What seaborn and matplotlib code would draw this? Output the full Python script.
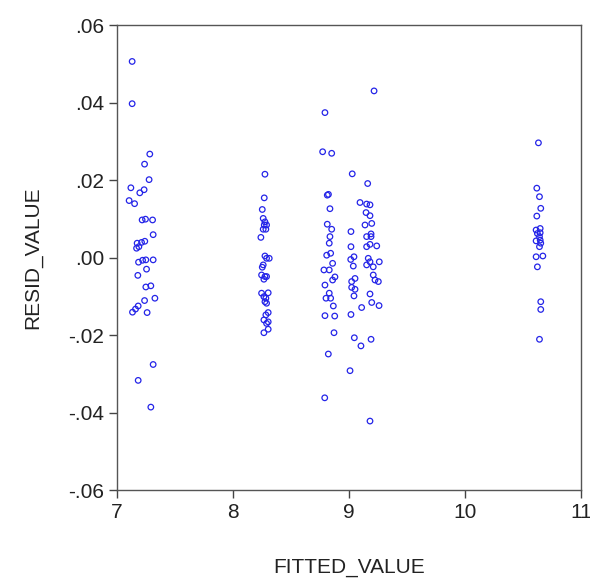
import matplotlib
matplotlib.use("Agg")
import matplotlib.pyplot as plt
import numpy as np
import pandas as pd
import seaborn as sns

# fitted values / residuals, grouped by cluster
fit_a = [7.132, 7.132, 7.284, 7.239, 7.278, 7.121, 7.235, 7.198, 7.106, 7.153,
         7.218, 7.247, 7.308, 7.313, 7.175, 7.190, 7.170, 7.213, 7.241, 7.187,
         7.222, 7.250, 7.313, 7.256, 7.181, 7.250, 7.293, 7.239, 7.328, 7.135,
         7.161, 7.184, 7.261, 7.313, 7.184, 7.293]
res_a = [0.0506, 0.0397, 0.0267, 0.0241, 0.0201, 0.0180, 0.0175, 0.0167, 0.0147, 0.0139,
         0.0097, 0.0099, 0.0097, 0.0059, 0.0037, 0.0028, 0.0024, 0.0039, 0.0042, -0.0012,
         -0.0007, -0.0006, -0.0006, -0.0030, -0.0046, -0.0076, -0.0073, -0.0111, -0.0105, -0.0141,
         -0.0133, -0.0125, -0.0142, -0.0276, -0.0317, -0.0386]

fit_b = [8.276, 8.270, 8.253, 8.261, 8.276, 8.270, 8.290, 8.261, 8.284, 8.241,
         8.276, 8.290, 8.313, 8.261, 8.253, 8.247, 8.276, 8.290, 8.267, 8.247,
         8.304, 8.267, 8.284, 8.276, 8.290, 8.304, 8.284, 8.267, 8.304, 8.290,
         8.304, 8.267]
res_b = [0.0215, 0.0154, 0.0124, 0.0101, 0.0092, 0.0084, 0.0084, 0.0073, 0.0073, 0.0052,
         0.0004, -0.0002, -0.0002, -0.0019, -0.0025, -0.0045, -0.0049, -0.0049, -0.0056, -0.0092,
         -0.0091, -0.0101, -0.0105, -0.0114, -0.0118, -0.0142, -0.0148, -0.0161, -0.0166, -0.0170,
         -0.0185, -0.0194]

fit_c = [8.793, 8.773, 8.851, 8.813, 8.823, 8.836, 8.813, 8.851, 8.836, 8.830,
         8.808, 8.842, 8.859, 8.784, 8.830, 8.859, 8.879, 8.793, 8.830, 8.802,
         8.842, 8.865, 8.793, 8.877, 8.871, 8.822, 8.791]
res_c = [0.0374, 0.0273, 0.0269, 0.0161, 0.0163, 0.0126, 0.0086, 0.0073, 0.0054, 0.0037,
         0.0006, 0.0011, -0.0015, -0.0032, -0.0032, -0.0058, -0.0050, -0.0071, -0.0092, -0.0105,
         -0.0105, -0.0125, -0.0150, -0.0151, -0.0194, -0.0249, -0.0362]

fit_d = [9.028, 9.017, 9.017, 9.015, 9.043, 9.037, 9.023, 9.052, 9.023, 9.052,
         9.043, 9.017, 9.046, 9.103, 9.009, 9.109, 9.095]
res_d = [0.0216, 0.0067, 0.0028, -0.0005, 0.0002, -0.0022, -0.0062, -0.0054, -0.0077, -0.0082,
         -0.0099, -0.0147, -0.0207, -0.0228, -0.0292, -0.0129, 0.0142]

fit_e = [9.216, 9.161, 9.152, 9.181, 9.147, 9.181, 9.138, 9.196, 9.152, 9.190,
         9.190, 9.152, 9.181, 9.239, 9.166, 9.181, 9.152, 9.209, 9.261, 9.209,
         9.224, 9.253, 9.181, 9.196, 9.259, 9.190, 9.181]
res_e = [0.0430, 0.0191, 0.0138, 0.0136, 0.0116, 0.0108, 0.0084, 0.0088, 0.0054, 0.0061,
         0.0054, 0.0028, 0.0034, 0.0030, -0.0002, -0.0011, -0.0019, -0.0024, -0.0011, -0.0045,
         -0.0058, -0.0062, -0.0094, -0.0116, -0.0124, -0.0211, -0.0422]

fit_f = [10.632, 10.618, 10.641, 10.652, 10.618, 10.612, 10.647, 10.623, 10.647, 10.641,
         10.612, 10.647, 10.652, 10.641, 10.612, 10.670, 10.623, 10.652, 10.652, 10.641]
res_f = [0.0296, 0.0179, 0.0157, 0.0127, 0.0107, 0.0071, 0.0075, 0.0062, 0.0064, 0.0054,
         0.0043, 0.0045, 0.0037, 0.0028, 0.0002, 0.0004, -0.0024, -0.0114, -0.0134, -0.0211]

x_ticks = [7, 8, 9, 10, 11]
y_ticks = [-0.06, -0.04, -0.02, 0.0, 0.02, 0.04, 0.06]
y_tick_labels = ["-.06", "-.04", "-.02", ".00", ".02", ".04", ".06"]

df = pd.DataFrame({
    "FITTED_VALUE": fit_a + fit_b + fit_c + fit_d + fit_e + fit_f,
    "RESID_VALUE": res_a + res_b + res_c + res_d + res_e + res_f,
})

sns.set_style("white")
plt.rcParams["font.family"] = ["Liberation Sans", "DejaVu Sans"]

fig = plt.figure(figsize=(5.9, 5.82), dpi=100)
ax = fig.add_axes([0.198, 0.158, 0.787, 0.799])

sns.scatterplot(data=df, x="FITTED_VALUE", y="RESID_VALUE", ax=ax,
                marker="o", s=16, facecolors="none", edgecolor="#2424e8",
                linewidth=0.9)

ax.set_xlim(7, 11)
ax.set_ylim(-0.06, 0.06)
ax.set_xticks(x_ticks)
ax.set_yticks(y_ticks)
ax.set_yticklabels(y_tick_labels)

for sp in ax.spines.values():
    sp.set_color("#555555")
    sp.set_linewidth(1.0)

ax.tick_params(axis="both", direction="out", length=6, width=1.0,
               color="#444444", labelsize=15, labelcolor="#222222",
               left=True, bottom=True, right=False, top=False, pad=3)
ax.set_xlabel("FITTED_VALUE", fontsize=15, color="#222222", labelpad=26)
ax.set_ylabel("RESID_VALUE", fontsize=15, color="#222222", labelpad=19)

fig.savefig("out.png", dpi=100)
